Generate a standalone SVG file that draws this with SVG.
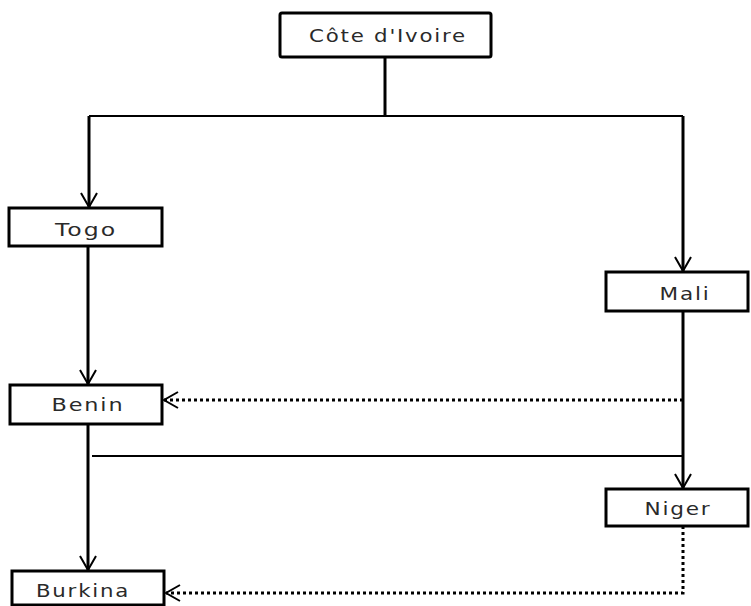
<svg xmlns="http://www.w3.org/2000/svg" width="751" height="606" viewBox="0 0 751 606">
<style>
.box{fill:#fff;stroke:#000;stroke-width:3}
.lbl{font-family:"DejaVu Sans",Verdana,sans-serif;font-size:18px;fill:#2a2a2a;text-anchor:middle;letter-spacing:1.5px}
.ln{fill:none;stroke:#000;stroke-width:3}
.thin{fill:none;stroke:#000;stroke-width:2}
.dot{fill:none;stroke:#000;stroke-width:3;stroke-dasharray:3 3}
</style>
<defs>
<marker id="v" viewBox="-15 -10 17 20" refX="0" refY="0" markerWidth="17" markerHeight="20" markerUnits="userSpaceOnUse" orient="auto">
<path d="M-14,-8 L0,0 L-14,8" fill="none" stroke="#000" stroke-width="2"/>
</marker>
</defs>
<rect width="751" height="606" fill="#fff"/>
<g id="connectors">
<path class="ln" d="M385,57 V116"/>
<path class="thin" d="M89,116 H683"/>
<path class="ln" d="M89,116 V207" marker-end="url(#v)"/>
<path class="ln" d="M683,116 V271" marker-end="url(#v)"/>
<path class="ln" d="M88,246 V384" marker-end="url(#v)"/>
<path class="ln" d="M683,311 V488" marker-end="url(#v)"/>
<path class="ln" d="M88,424 V570" marker-end="url(#v)"/>
<path class="thin" d="M92,456 H683"/>
<path class="dot" d="M683,400 H164" marker-end="url(#v)"/>
<path class="dot" d="M683,526 V593 H166" marker-end="url(#v)"/>
</g>
<g id="cote-divoire">
<rect class="box" x="280" y="13" width="211" height="44" rx="2"/>
<text class="lbl" x="388" y="42" textLength="158" lengthAdjust="spacingAndGlyphs">Côte d'Ivoire</text>
</g>
<g id="togo">
<rect class="box" x="9" y="208" width="153" height="38"/>
<text class="lbl" x="86" y="236" textLength="62" lengthAdjust="spacingAndGlyphs">Togo</text>
</g>
<g id="mali">
<rect class="box" x="606" y="272" width="142" height="39"/>
<text class="lbl" x="685" y="300" textLength="51" lengthAdjust="spacingAndGlyphs">Mali</text>
</g>
<g id="benin">
<rect class="box" x="10" y="385" width="152" height="39"/>
<text class="lbl" x="88" y="411" textLength="73" lengthAdjust="spacingAndGlyphs">Benin</text>
</g>
<g id="niger">
<rect class="box" x="606" y="489" width="142" height="37"/>
<text class="lbl" x="678" y="515" textLength="67" lengthAdjust="spacingAndGlyphs">Niger</text>
</g>
<g id="burkina">
<rect class="box" x="12" y="571" width="152" height="34"/>
<text class="lbl" x="83" y="597" textLength="94" lengthAdjust="spacingAndGlyphs">Burkina</text>
</g>
</svg>
